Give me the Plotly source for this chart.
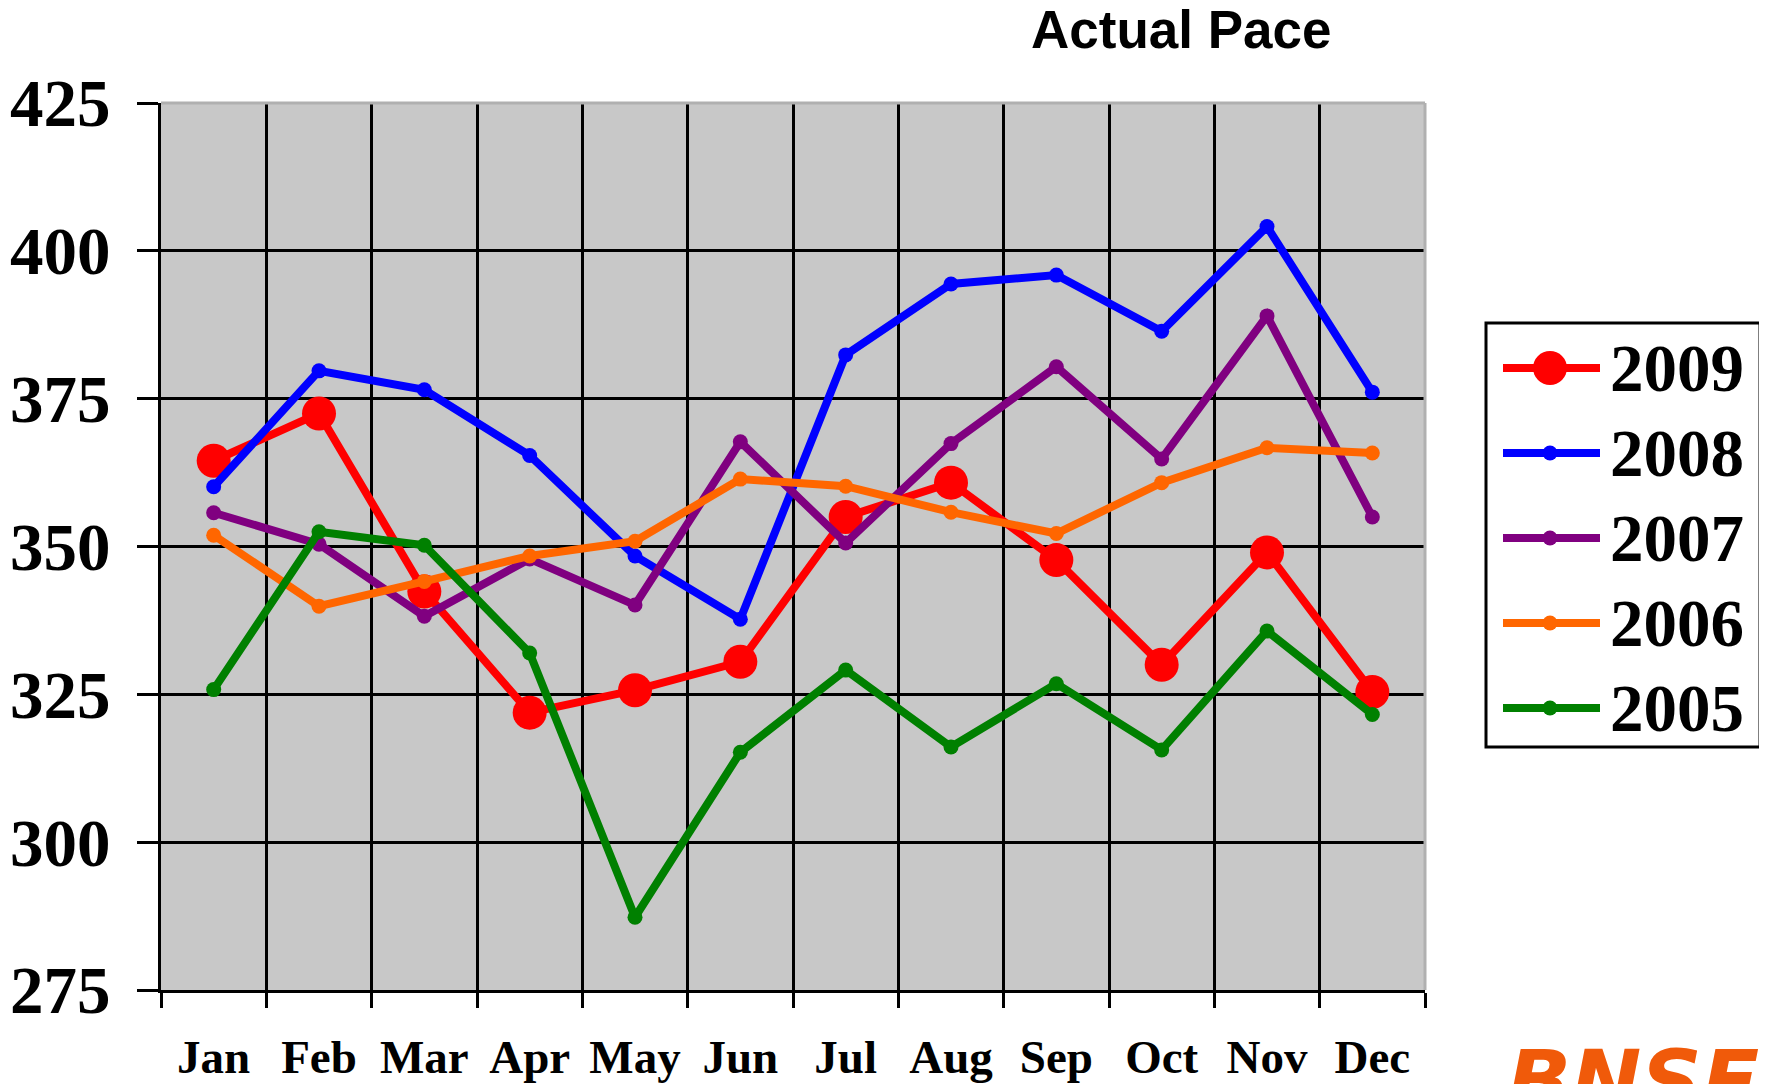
import plotly.graph_objects as go

# ---------------- data ----------------
months = ["Jan", "Feb", "Mar", "Apr", "May", "Jun", "Jul", "Aug", "Sep", "Oct", "Nov", "Dec"]
y2009 = [364.5, 372.5, 342.4, 321.9, 325.7, 330.5, 355.0, 360.8, 347.7, 330.0, 349.0, 325.4]
y2008 = [360.1, 379.7, 376.5, 365.4, 348.4, 337.7, 382.4, 394.4, 395.9, 386.4, 404.1, 376.1]
y2007 = [355.7, 350.4, 338.2, 347.9, 340.1, 367.7, 350.6, 367.4, 380.4, 364.8, 389.0, 355.0]
y2006 = [351.9, 339.9, 344.1, 348.4, 350.9, 361.4, 360.2, 355.8, 352.2, 360.8, 366.7, 365.8]
y2005 = [325.8, 352.5, 350.2, 332.0, 287.3, 315.2, 329.1, 316.1, 326.8, 315.6, 335.7, 321.6]
series_names = ["2009", "2008", "2007", "2006", "2005"]
series_values = [y2009, y2008, y2007, y2006, y2005]
y_ticks = [275, 300, 325, 350, 375, 400, 425]

# ---------------- style ----------------
colors = ["#FF0000", "#0000FF", "#800080", "#FF6600", "#008000"]
marker_sizes = [34, 15, 15, 15, 15]

# page body has an 8px margin, so the figure is placed at (8, 8)
OFF = 8
PAGE_W, PAGE_H = 1767, 1084
PLOT_L, PLOT_T, PLOT_R, PLOT_B = 161, 103, 1425, 990   # plot area in page pixels
W, H = PAGE_W - OFF, PAGE_H - OFF
L, T = PLOT_L - OFF, PLOT_T - OFF
R, B = PAGE_W - PLOT_R, PAGE_H - PLOT_B
PW, PH = PLOT_R - PLOT_L, PLOT_B - PLOT_T


def px_x(x):
    return (x - PLOT_L) / PW


def px_y(y):
    return (PLOT_B - y) / PH


SERIF = "Liberation Serif"
SANS = "Liberation Sans"

fig = go.Figure()
for name, vals, c, ms in zip(series_names, series_values, colors, marker_sizes):
    fig.add_trace(go.Scatter(
        x=months, y=vals, name=name, mode="lines+markers",
        line=dict(color=c, width=8),
        marker=dict(color=c, size=ms),
        showlegend=False,
    ))

shapes = [
    # gray top and right frame
    dict(type="line", xref="paper", yref="paper", x0=0, x1=1, y0=1, y1=1,
         line=dict(color="#b0b0b0", width=3), layer="above"),
    dict(type="line", xref="paper", yref="paper", x0=1, x1=1, y0=0.0, y1=1,
         line=dict(color="#b0b0b0", width=3), layer="above"),
    # legend box
    dict(type="rect", xref="paper", yref="paper",
         x0=px_x(1486), x1=px_x(1760), y0=px_y(747), y1=px_y(323),
         line=dict(color="black", width=3), fillcolor="white", layer="above"),
]
annotations = []
leg_y0, leg_dy = 368, 85
for i, (name, c, ms) in enumerate(zip(series_names, colors, marker_sizes)):
    yc = leg_y0 + i * leg_dy
    shapes.append(dict(type="line", xref="paper", yref="paper",
                       x0=px_x(1503), x1=px_x(1600), y0=px_y(yc), y1=px_y(yc),
                       line=dict(color=c, width=8), layer="above"))
    shapes.append(dict(type="circle", xref="paper", yref="paper",
                       xsizemode="pixel", ysizemode="pixel",
                       xanchor=px_x(1550), yanchor=px_y(yc),
                       x0=-ms / 2, x1=ms / 2, y0=-ms / 2, y1=ms / 2,
                       line=dict(width=0), fillcolor=c, layer="above"))
    annotations.append(dict(xref="paper", yref="paper", x=px_x(1608), y=px_y(yc),
                            xanchor="left", yanchor="middle", showarrow=False,
                            text="<b>%s</b>" % name,
                            font=dict(family=SERIF, size=67, color="black")))

annotations.append(dict(xref="paper", yref="paper", x=px_x(1181), y=1,
                        xanchor="center", yanchor="bottom", yshift=42, showarrow=False,
                        text="<b>Actual Pace</b>",
                        font=dict(family=SANS, size=53, color="black")))
annotations.append(dict(xref="paper", yref="paper", x=px_x(1505), y=px_y(1030),
                        xanchor="left", yanchor="top", showarrow=False,
                        text="<b><i>BNSF</i></b>",
                        font=dict(family="DejaVu Sans", size=84, color="#F05A0A")))

fig.update_layout(
    width=W, height=H,
    margin=dict(l=L, r=R, t=T, b=B, pad=0, autoexpand=False),
    paper_bgcolor="white",
    plot_bgcolor="#c8c8c8",
    shapes=shapes,
    annotations=annotations,
    showlegend=False,
)
fig.update_xaxes(
    type="category", range=[-0.5, 11.5], tickson="boundaries", automargin=False,
    ticks="outside", ticklen=15, tickwidth=3, tickcolor="black",
    showgrid=True, gridcolor="black", gridwidth=3,
    showline=True, linecolor="black", linewidth=3,
    tickfont=dict(family=SERIF, size=47, color="black", weight="bold"),
    ticklabelstandoff=24,
)
fig.update_yaxes(
    range=[275, 425], tickvals=y_ticks, automargin=False,
    ticks="outside", ticklen=21, tickwidth=3, tickcolor="black",
    showgrid=True, gridcolor="black", gridwidth=3, zeroline=False,
    showline=True, linecolor="black", linewidth=3,
    tickfont=dict(family=SERIF, size=67, color="black", weight="bold"),
    ticklabelstandoff=13,
)

fig.write_html("out.html")
